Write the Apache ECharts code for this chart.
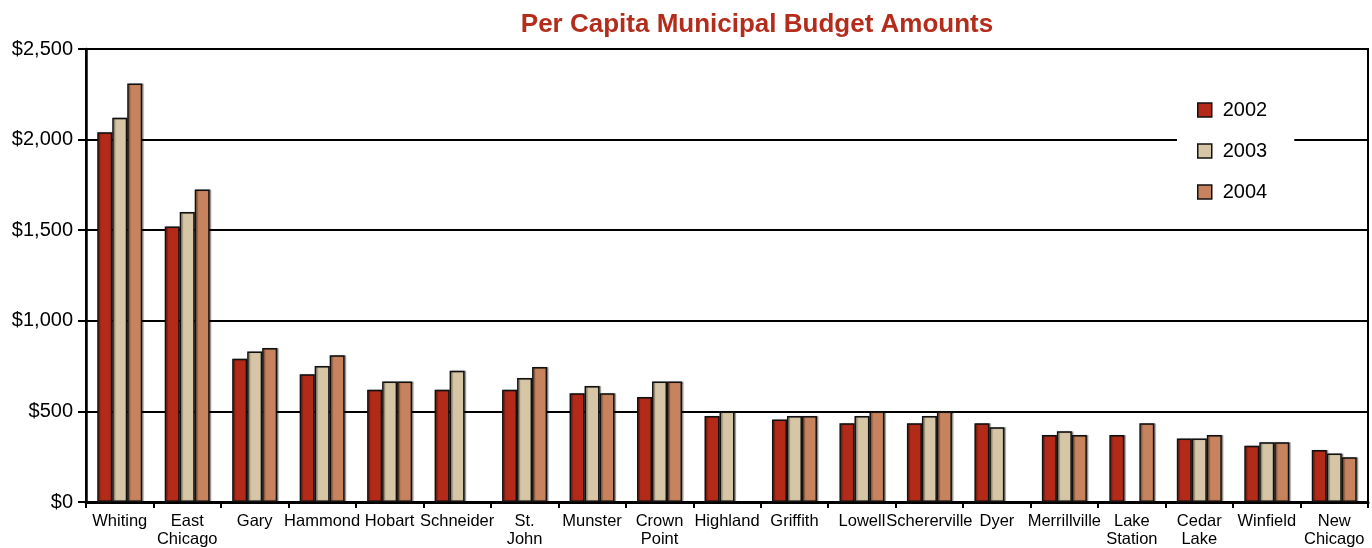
<!DOCTYPE html>
<html>
<head>
<meta charset="utf-8">
<script src="https://cdn.jsdelivr.net/npm/echarts@6/dist/echarts.min.js"></script>
<style>
  html, body { margin: 0; padding: 0; background: #fff; }
  #chart { width: 1372px; height: 548px; }
</style>
</head>
<body>
<div id="chart"></div>
<script>
// Municipalities, in the order they are charted
const towns = [
  'Whiting', 'East\nChicago', 'Gary', 'Hammond', 'Hobart', 'Schneider',
  'St.\nJohn', 'Munster', 'Crown\nPoint', 'Highland', 'Griffith', 'Lowell',
  'Schererville', 'Dyer', 'Merrillville', 'Lake\nStation', 'Cedar\nLake',
  'Winfield', 'New\nChicago'
];

// Per capita budget (dollars); null = no figure reported
const budget2002 = [2040, 1520, 790, 705, 620, 620, 620, 600, 580, 475, 455, 435, 435, 435, 370, 370, 350, 310, 287];
const budget2003 = [2120, 1600, 830, 750, 665, 725, 685, 640, 665, 500, 475, 475, 475, 412, 390, null, 350, 330, 267];
const budget2004 = [2310, 1725, 850, 810, 665, null, 745, 600, 665, null, 475, 500, 500, null, 370, 435, 370, 330, 247];

const years = ['2002', '2003', '2004'];
const yearColors = ['#b32b18', '#d6c6a6', '#c6835d'];

const chart = echarts.init(document.getElementById('chart'), null, { renderer: 'canvas' });

const barStyle = (color) => ({
  color: color,
  borderColor: '#111',
  borderWidth: 1.5,
  shadowColor: 'rgba(0,0,0,0.35)',
  shadowBlur: 1,
  shadowOffsetX: 1.5,
  shadowOffsetY: 0
});

const seriesData = [budget2002, budget2003, budget2004];

chart.setOption({
  animation: false,
  backgroundColor: '#fff',
  textStyle: { fontFamily: '"Liberation Sans", Arial, sans-serif' },
  title: {
    text: 'Per Capita Municipal Budget Amounts',
    left: 752,
    top: 7,
    textAlign: 'center',
    textStyle: {
      color: '#b42d1c',
      fontSize: 26,
      fontWeight: 'bold',
      fontFamily: '"Liberation Sans", Arial, sans-serif'
    }
  },
  legend: {
    orient: 'vertical',
    left: 1177,
    top: 90,
    padding: [10, 27, 10, 20],
    backgroundColor: '#fff',
    itemWidth: 14,
    itemHeight: 14,
    itemGap: 21,
    icon: 'rect',
    textStyle: {
      fontSize: 20,
      lineHeight: 20,
      color: '#000',
      padding: [0, 0, 0, 6],
      fontFamily: '"Liberation Sans", Arial, sans-serif'
    },
    itemStyle: { borderColor: '#111', borderWidth: 1.5, shadowBlur: 0, shadowOffsetX: 0 },
    data: years
  },
  grid: {
    left: 86,
    right: 4,
    top: 49,
    bottom: 46,
    show: true,
    borderColor: '#000',
    borderWidth: 2,
    containLabel: false
  },
  xAxis: {
    type: 'category',
    data: towns,
    axisLine: { lineStyle: { color: '#000', width: 3 } },
    axisTick: { show: true, length: 6, lineStyle: { color: '#000', width: 2 } },
    axisLabel: {
      interval: 0,
      color: '#000',
      fontSize: 16.5,
      lineHeight: 18,
      margin: 10,
      fontFamily: '"Liberation Sans", Arial, sans-serif'
    }
  },
  yAxis: {
    type: 'value',
    min: 0,
    max: 2500,
    interval: 500,
    axisLine: { show: true, lineStyle: { color: '#000', width: 2.5 } },
    axisTick: { show: true, length: 8, lineStyle: { color: '#000', width: 2 } },
    splitLine: { show: true, lineStyle: { color: '#000', width: 2 } },
    axisLabel: {
      color: '#000',
      fontSize: 20,
      margin: 13,
      fontFamily: '"Liberation Sans", Arial, sans-serif',
      formatter: (v) => '$' + v.toLocaleString('en-US')
    }
  },
  series: years.map((y, i) => ({
    name: y,
    type: 'bar',
    data: seriesData[i],
    barWidth: 15,
    barGap: '0%',
    itemStyle: barStyle(yearColors[i])
  }))
});
</script>
</body>
</html>
